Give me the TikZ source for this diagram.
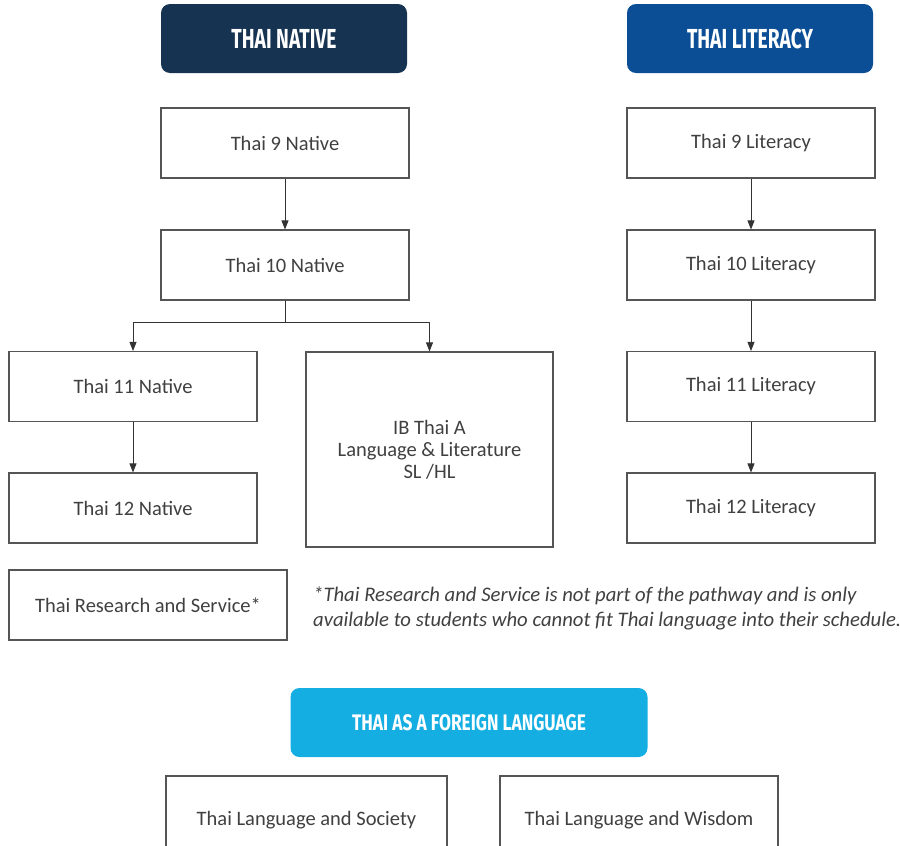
\documentclass[tikz,border=0pt]{standalone}
\usepackage{fontspec}
\setmainfont{Carlito}
\newfontfamily\headfont[FakeStretch=0.70]{Fira Sans Bold}
\newfontfamily\subheadfont[FakeStretch=0.77]{Fira Sans Bold}
\usetikzlibrary{arrows.meta}

\definecolor{nativeblue}{HTML}{163452}
\definecolor{literacyblue}{HTML}{0B4E96}
\definecolor{foreignblue}{HTML}{14AEE3}
\definecolor{boxline}{HTML}{555555}
\definecolor{boxtext}{HTML}{404040}

\tikzset{
  header/.style={rounded corners=9pt, minimum height=69pt, inner sep=0pt,
    text=white, font=\headfont\fontsize{27.5}{30}\selectfont},
  course/.style={draw=boxline, line width=1.1pt, fill=white, minimum width=248pt,
    minimum height=70pt, inner sep=0pt, align=center, text=boxtext,
    font=\fontsize{20.5}{22}\selectfont},
  link/.style={draw=black!80, line width=0.8pt},
  flow/.style={link, -{Triangle[width=7pt,length=9pt]}}
}

\begin{document}
\begin{tikzpicture}[x=1pt, y=-1pt]
\useasboundingbox (0,0) rectangle (900,846);
\clip (0,0) rectangle (900,846);

% programme headers
\node[header, fill=nativeblue, minimum width=246pt] (hnative) at (284,38.5) {THAI NATIVE};
\node[header, fill=literacyblue, minimum width=246pt] (hliteracy) at (750,38.5) {THAI LITERACY};
\node[header, fill=foreignblue, minimum width=357pt,
      font=\subheadfont\fontsize{22.5}{25}\selectfont] (hforeign) at (469,722.5)
  {THAI AS A FOREIGN LANGUAGE};

% native pathway
\node[course] (n9)  at (285,143)   {Thai 9 Native};
\node[course] (n10) at (285,265)   {Thai 10 Native};
\node[course] (n11) at (133,386.5) {Thai 11 Native};
\node[course] (n12) at (133,508)   {Thai 12 Native};
\node[course, minimum width=247pt, minimum height=195pt] (ib) at (429.5,449.5)
  {IB Thai A\\Language \& Literature\\SL /HL};

% literacy pathway
\node[course] (l9)  at (751,143)   {Thai 9 Literacy};
\node[course] (l10) at (751,265)   {Thai 10 Literacy};
\node[course] (l11) at (751,386.5) {Thai 11 Literacy};
\node[course] (l12) at (751,508)   {Thai 12 Literacy};

% research and service, with its note
\node[course, minimum width=278pt] (research) at (148,605) {Thai Research and Service*};
\node[anchor=west, align=left, text=boxtext, inner sep=0pt,
      font=\itshape\fontsize{20.7}{25}\selectfont] (note) at (313,608)
  {*Thai Research and Service is not part of the pathway and is only\\
   available to students who cannot fit Thai language into their schedule.};

% foreign language courses
\node[course, minimum width=281pt, minimum height=88pt] (society) at (306.5,820) {Thai Language and Society};
\node[course, minimum width=278pt, minimum height=88pt] (wisdom) at (639,820) {Thai Language and Wisdom};

% connectors
\coordinate (fork) at (285,322);
\draw[flow] (n9) -- (n10);
\draw[link] (n10) -- (fork);
\draw[flow] (fork) -| (n11);
\draw[flow] (fork) -| (ib);
\draw[flow] (n11) -- (n12);
\draw[flow] (l9) -- (l10);
\draw[flow] (l10) -- (l11);
\draw[flow] (l11) -- (l12);
\end{tikzpicture}
\end{document}
